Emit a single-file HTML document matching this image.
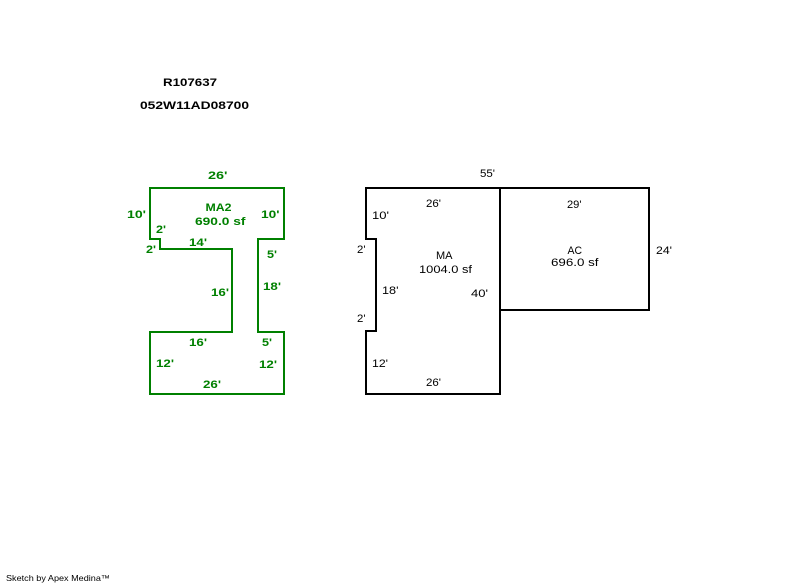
<!DOCTYPE html>
<html>
<head>
<meta charset="utf-8">
<style>
  html,body{margin:0;padding:0;background:#fff;}
  svg{display:block;}
  .g{fill:#008000;font-family:"Liberation Sans",sans-serif;font-weight:bold;font-size:11px;}
  .k{fill:#000;font-family:"Liberation Sans",sans-serif;font-size:11px;}
  .h{fill:#000;font-family:"Liberation Sans",sans-serif;font-weight:bold;font-size:11px;}
</style>
</head>
<body>
<svg width="800" height="587" viewBox="0 0 800 587" xmlns="http://www.w3.org/2000/svg">
  <rect x="0" y="0" width="800" height="587" fill="#fff"/>

  <!-- Header -->
  <text class="h" x="163" y="86" textLength="54" lengthAdjust="spacingAndGlyphs">R107637</text>
  <text class="h" x="140" y="109" textLength="109" lengthAdjust="spacingAndGlyphs">052W11AD08700</text>

  <!-- Green MA2 shape -->
  <polygon points="150,188 284,188 284,239 258,239 258,332 284,332 284,394 150,394 150,332 232,332 232,249 160,249 160,239 150,239"
           fill="none" stroke="#008000" stroke-width="2"/>

  <text class="g" x="208" y="179" textLength="19.5" lengthAdjust="spacingAndGlyphs">26'</text>
  <text class="g" x="205.5" y="211" textLength="26" lengthAdjust="spacingAndGlyphs">MA2</text>
  <text class="g" x="195" y="225" textLength="50.5" lengthAdjust="spacingAndGlyphs">690.0 sf</text>
  <text class="g" x="127" y="218" textLength="19" lengthAdjust="spacingAndGlyphs">10'</text>
  <text class="g" x="261" y="218" textLength="18.5" lengthAdjust="spacingAndGlyphs">10'</text>
  <text class="g" x="156" y="233" textLength="10" lengthAdjust="spacingAndGlyphs">2'</text>
  <text class="g" x="146" y="253" textLength="10" lengthAdjust="spacingAndGlyphs">2'</text>
  <text class="g" x="189" y="246" textLength="18" lengthAdjust="spacingAndGlyphs">14'</text>
  <text class="g" x="267" y="258" textLength="10" lengthAdjust="spacingAndGlyphs">5'</text>
  <text class="g" x="211" y="296" textLength="18" lengthAdjust="spacingAndGlyphs">16'</text>
  <text class="g" x="263" y="290" textLength="18" lengthAdjust="spacingAndGlyphs">18'</text>
  <text class="g" x="189" y="346" textLength="18" lengthAdjust="spacingAndGlyphs">16'</text>
  <text class="g" x="262" y="346" textLength="10" lengthAdjust="spacingAndGlyphs">5'</text>
  <text class="g" x="156" y="367" textLength="18" lengthAdjust="spacingAndGlyphs">12'</text>
  <text class="g" x="259" y="368" textLength="18" lengthAdjust="spacingAndGlyphs">12'</text>
  <text class="g" x="203" y="388" textLength="18" lengthAdjust="spacingAndGlyphs">26'</text>

  <!-- Black MA shape -->
  <polygon points="366,188 500,188 500,394 366,394 366,331 376,331 376,239 366,239"
           fill="none" stroke="#000" stroke-width="2"/>
  <!-- AC -->
  <polyline points="500,188 649,188 649,310 500,310" fill="none" stroke="#000" stroke-width="2"/>

  <text class="k" x="480" y="177" textLength="15" lengthAdjust="spacingAndGlyphs">55'</text>
  <text class="k" x="426" y="207" textLength="15" lengthAdjust="spacingAndGlyphs">26'</text>
  <text class="k" x="372" y="219" textLength="17" lengthAdjust="spacingAndGlyphs">10'</text>
  <text class="k" x="357" y="253" textLength="8.5" lengthAdjust="spacingAndGlyphs">2'</text>
  <text class="k" x="436" y="259" textLength="16.5" lengthAdjust="spacingAndGlyphs">MA</text>
  <text class="k" x="419" y="273" textLength="53" lengthAdjust="spacingAndGlyphs">1004.0 sf</text>
  <text class="k" x="382" y="294" textLength="16.5" lengthAdjust="spacingAndGlyphs">18'</text>
  <text class="k" x="471" y="297" textLength="17" lengthAdjust="spacingAndGlyphs">40'</text>
  <text class="k" x="357" y="322" textLength="8.5" lengthAdjust="spacingAndGlyphs">2'</text>
  <text class="k" x="372" y="367" textLength="16" lengthAdjust="spacingAndGlyphs">12'</text>
  <text class="k" x="426" y="386" textLength="15" lengthAdjust="spacingAndGlyphs">26'</text>

  <text class="k" x="567" y="208" textLength="14.5" lengthAdjust="spacingAndGlyphs">29'</text>
  <text class="k" x="567.5" y="254" textLength="14.5" lengthAdjust="spacingAndGlyphs">AC</text>
  <text class="k" x="551" y="266" textLength="47.5" lengthAdjust="spacingAndGlyphs">696.0 sf</text>
  <text class="k" x="656" y="254" textLength="16" lengthAdjust="spacingAndGlyphs">24'</text>

  <!-- Footer -->
  <text x="6" y="581" fill="#000" font-family="Liberation Sans, sans-serif" font-size="8.5" textLength="104" lengthAdjust="spacingAndGlyphs">Sketch by Apex Medina™</text>
</svg>
</body>
</html>
